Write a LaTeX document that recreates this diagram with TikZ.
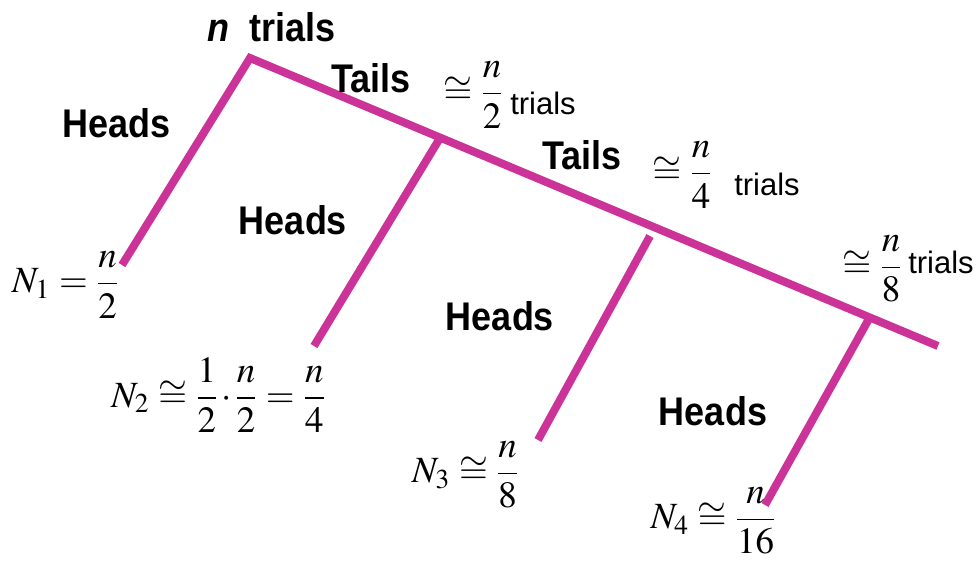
\documentclass[tikz,border=0pt]{standalone}
\usepackage{amsmath}
\usepackage{mathptmx}
\usepackage[no-math]{fontspec}
\setmainfont{Liberation Sans}
\newfontfamily\labfont[FakeStretch=0.9]{Liberation Sans}
\definecolor{branch}{RGB}{204,51,153}
\thickmuskip=4.5mu plus 1mu
\medmuskip=2mu plus 1mu
\begin{document}
\begin{tikzpicture}[x=1pt,y=-1pt,
  bw/.style={draw=branch, line width=8pt, line join=miter},
  boldlab/.style={font=\labfont\fontsize{40}{44}\selectfont\bfseries, inner sep=0pt},
  triallab/.style={font=\fontsize{31}{36}\selectfont, inner sep=0pt},
  mathlab/.style={font=\fontsize{37}{44}\selectfont, inner sep=0pt}]
\useasboundingbox (0,0) rectangle (979,561);
% tree coordinates
\coordinate (root) at (250,58);
\coordinate (tip) at (938,346);
\coordinate (leafA) at (122,265);
\coordinate (jB) at (440,138);
\coordinate (leafB) at (314,346);
\coordinate (topC) at (650,236);
\coordinate (leafC) at (538,440);
\coordinate (jD) at (870,317);
\coordinate (leafD) at (765,505);
\draw[bw] (leafA) -- (root) -- (tip);
\draw[bw] (jB) -- (leafB);
\draw[bw] (topC) -- (leafC);
\draw[bw] (jD) -- (leafD);
% labels
\node[boldlab] (ntr) at (272,27) {\textit{n}\hspace{20pt}trials};
\node[boldlab] (t1) at (371,78) {Tails};
\node[boldlab] (t2) at (582,155) {Tails};
\node[boldlab] (h1) at (117,123) {Heads};
\node[boldlab] (h2) at (293,220) {Heads};
\node[boldlab] (h3) at (500,316) {Heads};
\node[boldlab] (h4) at (713,411) {Heads};
% trial counts
\node[mathlab] (f2) at (473,95) {$\cong\dfrac{n}{2}$};
\node[triallab] (tr2) at (543,103) {trials};
\node[mathlab] (f4) at (682,175) {$\cong\dfrac{n}{4}$};
\node[triallab] (tr4) at (767,184) {trials};
\node[mathlab] (f8) at (872,269) {$\cong\dfrac{n}{8}$};
\node[triallab] (tr8) at (941,262) {trials};
% N values
\node[mathlab] (n1) at (65,285) {$N_1=\dfrac{n}{2}$};
\node[mathlab] (n2) at (218,395) {$N_2\cong\dfrac{1}{2}\cdot\dfrac{n}{2}=\dfrac{n}{4}$};
\node[mathlab] (n3) at (465,475) {$N_3\cong\dfrac{n}{8}$};
\node[mathlab] (n4) at (713,521) {$N_4\cong\dfrac{n}{16}$};
\end{tikzpicture}
\end{document}
